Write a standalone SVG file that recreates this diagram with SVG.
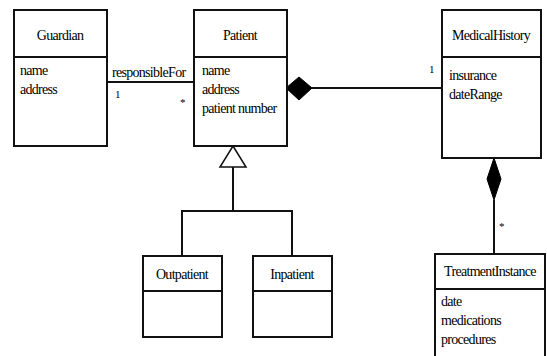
<svg xmlns="http://www.w3.org/2000/svg" width="547" height="356" viewBox="0 0 547 356">
<style>
.box{fill:#fff;stroke:#111;stroke-width:2}
.ln{fill:none;stroke:#111;stroke-width:2}
</style>
<rect width="547" height="356" fill="#fff"/>
<g id="connectors">
<line class="ln" x1="107" y1="82" x2="194" y2="82"/>
<line class="ln" x1="312" y1="88" x2="442" y2="88"/>
<polygon points="286,88 299,77 312,88 299,100" fill="#000" stroke="#000"/>
<line class="ln" x1="494" y1="200" x2="494" y2="254"/>
<polygon points="494,158 501,179 494,200 487,179" fill="#000" stroke="#000"/>
<polyline class="ln" points="233,167 233,211"/>
<polyline class="ln" points="182,256 182,211 292,211 292,256"/>
<polygon points="233,146 246,167 220,167" fill="#fff" stroke="#111" stroke-width="1.5"/>
<text font-family="Liberation Serif" font-size="14" letter-spacing="-0.7" x="112" y="77">responsibleFor</text>
<text font-family="Liberation Serif" font-size="11" x="115" y="98">1</text>
<text font-family="Liberation Serif" font-size="11" x="180" y="106">*</text>
<text font-family="Liberation Serif" font-size="11" x="429" y="73">1</text>
<text font-family="Liberation Serif" font-size="11" x="499" y="230">*</text>
</g>
<g id="guardian">
<rect class="box" x="14" y="10" width="93" height="136"/>
<line class="ln" x1="14" y1="57" x2="107" y2="57"/>
<text font-family="Liberation Serif" font-size="14" letter-spacing="-0.7" text-anchor="middle" x="60" y="40">Guardian</text>
<text font-family="Liberation Serif" font-size="14" letter-spacing="-0.7" x="20" y="75">name</text>
<text font-family="Liberation Serif" font-size="14" letter-spacing="-0.7" x="20" y="94">address</text>
</g>
<g id="patient">
<rect class="box" x="194" y="10" width="93" height="136"/>
<line class="ln" x1="194" y1="57" x2="287" y2="57"/>
<text font-family="Liberation Serif" font-size="14" letter-spacing="-0.7" text-anchor="middle" x="240" y="40">Patient</text>
<text font-family="Liberation Serif" font-size="14" letter-spacing="-0.7" x="202" y="75">name</text>
<text font-family="Liberation Serif" font-size="14" letter-spacing="-0.7" x="202" y="94">address</text>
<text font-family="Liberation Serif" font-size="14" letter-spacing="-0.7" x="202" y="113">patient number</text>
</g>
<g id="medicalhistory">
<rect class="box" x="442" y="10" width="99" height="148"/>
<line class="ln" x1="442" y1="57" x2="541" y2="57"/>
<text font-family="Liberation Serif" font-size="14" letter-spacing="-0.7" text-anchor="middle" x="491" y="40">MedicalHistory</text>
<text font-family="Liberation Serif" font-size="14" letter-spacing="-0.7" x="449" y="80">insurance</text>
<text font-family="Liberation Serif" font-size="14" letter-spacing="-0.7" x="449" y="99">dateRange</text>
</g>
<g id="outpatient">
<rect class="box" x="143" y="256" width="79" height="81"/>
<line class="ln" x1="143" y1="291" x2="222" y2="291"/>
<text font-family="Liberation Serif" font-size="14" letter-spacing="-0.7" text-anchor="middle" x="182" y="279">Outpatient</text>
</g>
<g id="inpatient">
<rect class="box" x="253" y="256" width="79" height="81"/>
<line class="ln" x1="253" y1="291" x2="332" y2="291"/>
<text font-family="Liberation Serif" font-size="14" letter-spacing="-0.7" text-anchor="middle" x="292" y="279">Inpatient</text>
</g>
<g id="treatmentinstance">
<rect class="box" x="435" y="254" width="110" height="110"/>
<line class="ln" x1="435" y1="289" x2="545" y2="289"/>
<text font-family="Liberation Serif" font-size="14" letter-spacing="-0.7" text-anchor="middle" x="490" y="276">TreatmentInstance</text>
<text font-family="Liberation Serif" font-size="14" letter-spacing="-0.7" x="441" y="306">date</text>
<text font-family="Liberation Serif" font-size="14" letter-spacing="-0.7" x="441" y="325">medications</text>
<text font-family="Liberation Serif" font-size="14" letter-spacing="-0.7" x="441" y="344">procedures</text>
</g>
</svg>
